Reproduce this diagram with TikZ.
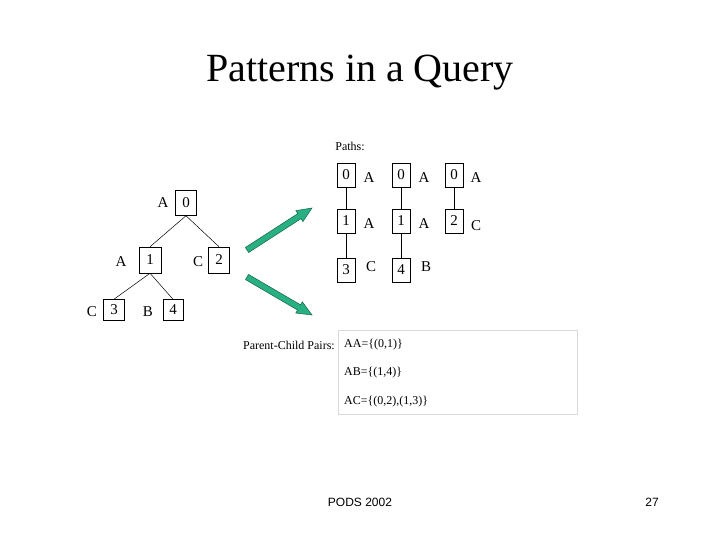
\documentclass[tikz,border=0pt]{standalone}
\usetikzlibrary{calc}
\usepackage{fontspec}
\setmainfont{Liberation Serif}
\setsansfont{Liberation Sans}
\definecolor{arr}{RGB}{40,175,130}
\definecolor{arrd}{RGB}{20,100,80}
\begin{document}
\begin{tikzpicture}[x=1pt,y=-1pt,
  bx/.style={draw,line width=0.5pt,inner sep=0pt,font=\fontsize{15}{15}\selectfont},
  lb/.style={inner sep=0pt,font=\fontsize{15}{15}\selectfont},
  pb/.style={draw,line width=0.5pt,inner sep=0pt,minimum width=18,minimum height=24,font=\fontsize{15}{15}\selectfont},
  ed/.style={line width=0.5pt},
  big/.style={draw=arrd,fill=arr,line width=0.5pt,line join=miter},
  sm/.style={inner sep=0pt,font=\fontsize{12}{12}\selectfont}]
\useasboundingbox[fill=white] (0,0) rectangle (720,540);
\node[font=\fontsize{40}{40}\selectfont] (title) at (360,73) {Patterns in a Query};
% tree
\node[bx,minimum width=21,minimum height=25] (t0) at (186,203) {0};
\node[bx,minimum width=22,minimum height=26] (t1) at (150,260) {1};
\node[bx,minimum width=21,minimum height=26] (t2) at (219,260) {2};
\node[bx,minimum width=21,minimum height=21] (t3) at (114,310) {3};
\node[bx,minimum width=20,minimum height=21] (t4) at (173,310) {4};
\node[lb] (l0) at (163,203) {A};
\node[lb] (l1) at (121,262) {A};
\node[lb] (l2) at (198,262) {C};
\node[lb] (l3) at (92,312) {C};
\node[lb] (l4) at (148,312) {B};
\draw[ed] (t0.south) -- (t1.north);
\draw[ed] (t0.south) -- (t2.north);
\draw[ed] (t1.south) -- (t3.north);
\draw[ed] (t1.south) -- (t4.north);
% arrows
\coordinate (s1) at (247,250); \coordinate (e1) at (312,208);
\coordinate (p1) at ($(e1)!15pt!(s1)$);
\draw[big] ($(s1)!3pt!90:(e1)$) -- ($(p1)!3pt!-90:(s1)$) -- ($(p1)!6.5pt!-90:(s1)$) -- (e1)
   -- ($(p1)!6.5pt!90:(s1)$) -- ($(p1)!3pt!90:(s1)$) -- ($(s1)!3pt!-90:(e1)$) -- cycle;
\coordinate (s2) at (247,277); \coordinate (e2) at (312,315);
\coordinate (p2) at ($(e2)!15pt!(s2)$);
\draw[big] ($(s2)!3pt!90:(e2)$) -- ($(p2)!3pt!-90:(s2)$) -- ($(p2)!6.5pt!-90:(s2)$) -- (e2)
   -- ($(p2)!6.5pt!90:(s2)$) -- ($(p2)!3pt!90:(s2)$) -- ($(s2)!3pt!-90:(e2)$) -- cycle;
% paths
\node[sm] (paths) at (350,146) {Paths:};
\node[pb] (a0) at (346,175) {0};
\node[pb] (a1) at (346,221) {1};
\node[pb] (a3) at (346,270) {3};
\node[pb] (b0) at (401,175) {0};
\node[pb] (b1) at (401,221) {1};
\node[pb] (b4) at (401,270) {4};
\node[pb] (c0) at (454,175) {0};
\node[pb] (c2) at (454,221) {2};
\draw[ed] (a0) -- (a1) -- (a3);
\draw[ed] (b0) -- (b1) -- (b4);
\draw[ed] (c0) -- (c2);
\node[lb] (la0) at (369,178) {A};
\node[lb] (la1) at (369,224) {A};
\node[lb] (la3) at (371,267) {C};
\node[lb] (lb0) at (424,178) {A};
\node[lb] (lb1) at (424,224) {A};
\node[lb] (lb4) at (426,267) {B};
\node[lb] (lc0) at (476,178) {A};
\node[lb] (lc2) at (476,226) {C};
% pairs
\node[draw=black!15,line width=0.7pt,minimum width=239,minimum height=84,inner sep=0pt] (box) at (457.5,372) {};
\node[sm,anchor=east] (pc) at (335,345) {Parent-Child Pairs:};
\node[sm,anchor=west] (q1) at (344,345) {AA=\{(0,1)\}};
\node[sm,anchor=west] (q2) at (344,373) {AB=\{(1,4)\}};
\node[sm,anchor=west] (q3) at (344,402) {AC=\{(0,2),(1,3)\}};
\node[font=\sffamily\fontsize{12}{12}\selectfont] (pods) at (360,502) {PODS 2002};
\node[font=\sffamily\fontsize{12}{12}\selectfont] (num) at (652,502) {27};
\end{tikzpicture}
\end{document}
